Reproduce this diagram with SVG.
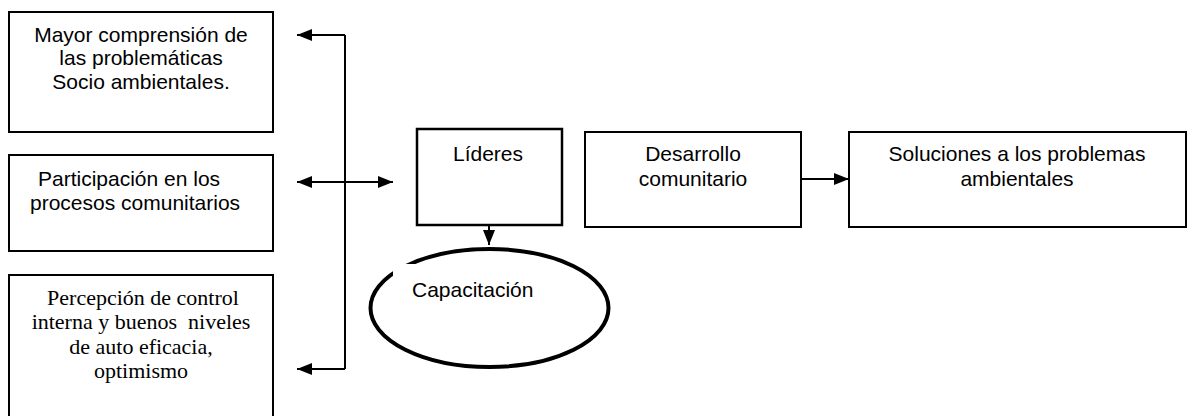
<svg xmlns="http://www.w3.org/2000/svg" width="1187" height="416" viewBox="0 0 1187 416">
<style>
.box{fill:#fff;stroke:#000;stroke-width:2}
.sans{font-family:"Liberation Sans",Arial,sans-serif;font-size:21px;fill:#000}
.serif{font-family:"Liberation Serif","Times New Roman",serif;font-size:22px;fill:#000}
.c{text-anchor:middle}
.ln{fill:none;stroke:#000;stroke-width:2}
</style>
<defs>
<marker id="ah" viewBox="0 0 15 12" refX="15" refY="6" markerWidth="15" markerHeight="12" markerUnits="userSpaceOnUse" orient="auto-start-reverse">
<path d="M0,0 L15,6 L0,12 Z" fill="#000"/>
</marker>
</defs>
<rect width="1187" height="416" fill="#fff"/>
<g id="n-mayor">
<rect class="box" x="9" y="12" width="264" height="120"/>
<text class="sans c" x="141" y="42">Mayor comprensión de</text>
<text class="sans c" x="141" y="65">las problemáticas</text>
<text class="sans c" x="141" y="89">Socio ambientales.</text>
</g>
<g id="n-participacion">
<rect class="box" x="9" y="155" width="264" height="96"/>
<text class="sans" x="38" y="186">Participación en los</text>
<text class="sans" x="30" y="210">procesos comunitarios</text>
</g>
<g id="n-percepcion">
<rect class="box" x="9" y="275" width="264" height="150"/>
<text class="serif c" x="143" y="305">Percepción de control</text>
<text class="serif c" x="141" y="329" xml:space="preserve" style="white-space:pre">interna y buenos  niveles</text>
<text class="serif c" x="141" y="354">de auto eficacia,</text>
<text class="serif c" x="141" y="378">optimismo</text>
</g>
<g id="n-lideres">
<rect class="box" x="417" y="129" width="145" height="96" style="stroke-width:2.5"/>
<text class="sans c" x="488" y="161">Líderes</text>
</g>
<g id="n-desarrollo">
<rect class="box" x="585" y="132" width="216" height="95"/>
<text class="sans c" x="693" y="161">Desarrollo</text>
<text class="sans c" x="693" y="186">comunitario</text>
</g>
<g id="n-soluciones">
<rect class="box" x="849" y="132" width="337" height="95"/>
<text class="sans c" x="1017" y="161">Soluciones a los problemas</text>
<text class="sans c" x="1017" y="186">ambientales</text>
</g>
<g id="n-capacitacion">
<ellipse cx="489.5" cy="308" rx="119" ry="59" fill="#fff" stroke="#000" stroke-width="4"/>
<rect x="393" y="264" width="90" height="40" fill="#fff"/>
<text class="sans" x="412" y="297">Capacitación</text>
</g>
<g id="connectors">
<polyline class="ln" points="345,35 345,369"/>
<line class="ln" x1="345" y1="35" x2="297" y2="35" marker-end="url(#ah)"/>
<line class="ln" x1="345" y1="369" x2="297" y2="369" marker-end="url(#ah)"/>
<line class="ln" x1="297" y1="182" x2="393" y2="182" marker-start="url(#ah)" marker-end="url(#ah)"/>
<line class="ln" x1="801" y1="179" x2="849" y2="179" marker-end="url(#ah)"/>
<line class="ln" x1="489" y1="225" x2="489" y2="245" marker-end="url(#ah)"/>
</g>
</svg>
